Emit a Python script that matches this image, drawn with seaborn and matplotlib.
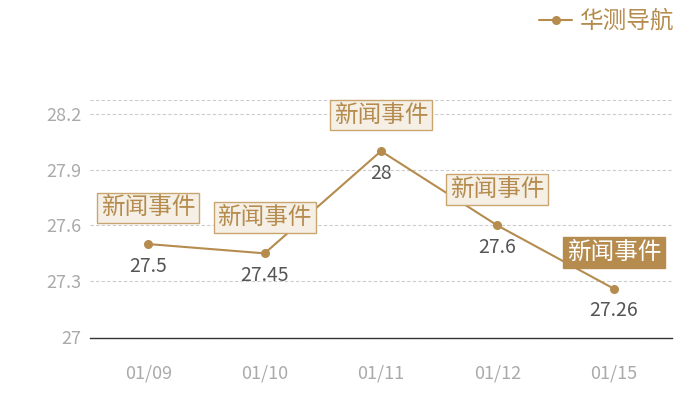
import matplotlib
matplotlib.use("Agg")
import matplotlib.pyplot as plt
import seaborn as sns
import pandas as pd

dates = ["01/09", "01/10", "01/11", "01/12", "01/15"]
prices = [27.5, 27.45, 28.0, 27.6, 27.26]
price_labels = ["27.5", "27.45", "28", "27.6", "27.26"]
events = ["新闻事件", "新闻事件", "新闻事件", "新闻事件", "新闻事件"]
highlight = [False, False, False, False, True]
y_ticks = [27, 27.3, 27.6, 27.9, 28.2]
series_name = "华测导航"

gold = "#b58c4e"

sns.set_style("white")
plt.rcParams["font.family"] = ["Noto Sans CJK SC", "DejaVu Sans"]

df = pd.DataFrame({"pos": range(len(dates)), "price": prices})

fig = plt.figure(figsize=(7, 4), dpi=100)
ax = fig.add_axes([0.1286, 0.1575, 0.8314, 0.5925])

sns.lineplot(data=df, x="pos", y="price", ax=ax, color=gold, linewidth=1.5,
             marker="o", markersize=6.5, markeredgewidth=0, label=series_name)

ax.set_xlim(-0.5, len(dates) - 0.5)
ax.set_ylim(27, 28.275)
ax.set_yticks(y_ticks)
ax.set_yticklabels(["27", "27.3", "27.6", "27.9", "28.2"])
ax.set_xticks(range(len(dates)))
ax.set_xticklabels(dates)
ax.tick_params(axis="both", length=0, labelsize=13, labelcolor="#aaaaaa")
ax.tick_params(axis="x", pad=19)
ax.tick_params(axis="y", pad=6)
ax.set_xlabel("")
ax.set_ylabel("")

for yv in y_ticks + [28.275]:
    ax.axhline(yv, color="#cccccc", linewidth=0.8, linestyle=(0, (3, 2)), zorder=0)

for s in ["top", "right", "left"]:
    ax.spines[s].set_visible(False)
ax.spines["bottom"].set_color("#333333")
ax.spines["bottom"].set_linewidth(1)
ax.spines["bottom"].set_position(("outward", 1))

for i, (p, lab, ev, hl) in enumerate(zip(prices, price_labels, events, highlight)):
    ax.annotate(lab, (i, p), xytext=(0, -16), textcoords="offset points",
                ha="center", va="center", fontsize=14, color="#555555")
    if hl:
        box = dict(boxstyle="square,pad=0.16", facecolor=gold, edgecolor=gold, linewidth=1)
        tc = "white"
    else:
        box = dict(boxstyle="square,pad=0.16", facecolor="#f5efe6", edgecolor="#c9a56f", linewidth=1)
        tc = gold
    ax.annotate(ev, (i, p), xytext=(0, 26), textcoords="offset points",
                ha="center", va="center", fontsize=17, color=tc, bbox=box)

leg = ax.legend(loc="upper right", bbox_to_anchor=(1.04, 1.47), frameon=False,
                fontsize=17, handlelength=1.4, handletextpad=0.3, labelcolor=gold)

fig.savefig("out.png", dpi=100)
